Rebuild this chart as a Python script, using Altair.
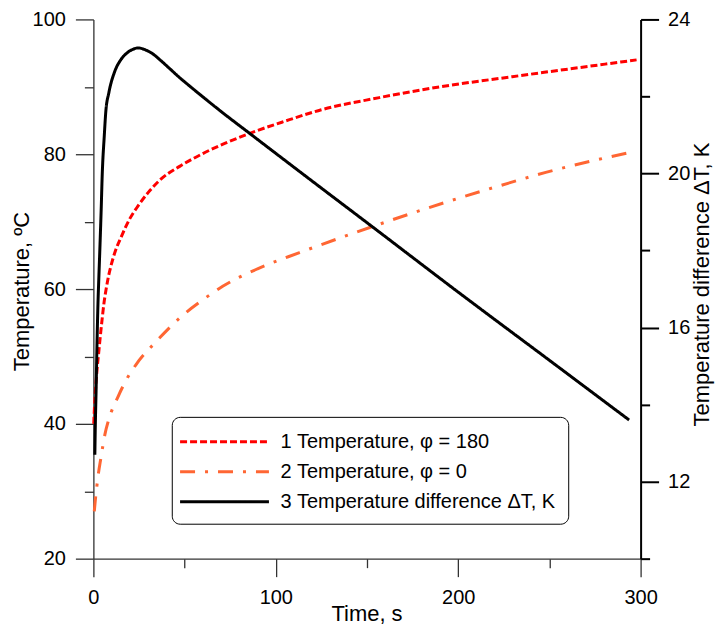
import altair as alt
import pandas as pd

# ---- data ----
series_names = ["1 Temperature, \u03c6 = 180", "2 Temperature, \u03c6 = 0", "3 Temperature difference \u0394T, K"]

red_t = [0.2, 0.6, 1.2, 2.0, 3.0, 3.8, 4.7, 5.8, 7.0, 8.3, 9.7, 12.0, 15.2, 19.5, 24.4, 30.0, 37.0,
         47.3, 60.0, 72.0, 85.7, 105.0, 125.0, 156.8, 190.0, 229.6, 255.4, 297.8]
red_T = [40.0, 42.5, 45.2, 48.0, 50.8, 53.0, 55.3, 57.9, 60.0, 61.9, 63.5, 65.6, 67.7, 70.2, 72.3, 74.3, 76.3,
         78.2, 80.1, 81.6, 83.1, 84.9, 86.6, 88.4, 90.0, 91.5, 92.45, 94.0]

orange_t = [0.5, 1.0, 1.8, 2.6, 4.1, 6.3, 8.6, 13.3, 18.0, 23.4, 34.4, 48.1, 60.0, 70.9, 90.0, 113.0,
            152.3, 193.4, 220.0, 248.0, 294.6]
orange_T = [27.0, 28.5, 30.5, 32.3, 34.9, 38.4, 40.8, 43.9, 46.5, 48.8, 52.2, 55.9, 58.4, 60.4, 63.0, 65.4,
            69.2, 72.9, 75.1, 77.3, 80.3]

black_t = [0.8, 1.0, 1.5, 2.0, 2.5, 3.0, 3.6, 4.3, 4.8, 6.0, 6.8, 8.5, 11.8, 15.0, 18.2, 21.5, 24.5, 28.0,
           32.7, 37.0, 41.9, 47.0, 51.0, 60.0, 70.0, 85.7, 98.4, 120.0, 152.3, 200.0, 250.0, 293.7]
black_dT = [12.7, 13.3, 14.4, 15.6, 16.6, 17.3, 18.1, 19.1, 19.9, 21.0, 21.6, 22.1, 22.66, 22.95, 23.12, 23.22,
            23.26, 23.22, 23.1, 22.93, 22.72, 22.5, 22.34, 21.99, 21.61, 21.04, 20.58, 19.8, 18.64, 16.92,
            15.15, 13.6]

x_ticks = [0, 50, 100, 150, 200, 250, 300]
yl_ticks = [20, 30, 40, 50, 60, 70, 80, 90, 100]
yr_ticks = [10, 12, 14, 16, 18, 20, 22, 24]

colors = ["#ff0000", "#ff6633", "#000000"]
dashes = [[7, 3], [15, 10, 3, 10], [1, 0]]

temp_df = pd.concat([
    pd.DataFrame({"t": red_t, "v": red_T, "series": series_names[0]}),
    pd.DataFrame({"t": orange_t, "v": orange_T, "series": series_names[1]}),
], ignore_index=True)
dt_df = pd.DataFrame({"t": black_t, "v": black_dT, "series": series_names[2]})

FONT = "Liberation Sans"

color_enc = alt.Color(
    "series:N",
    scale=alt.Scale(domain=series_names, range=colors),
    legend=alt.Legend(
        orient="none", legendX=78.5, legendY=398, title=None,
        strokeColor="black", cornerRadius=8, fillColor="white", padding=12,
        labelFont=FONT, labelFontSize=20, labelColor="black", labelLimit=0,
        symbolType="M-1.5,0H6.5", symbolSize=495, symbolStrokeWidth=3,
        rowPadding=7, labelOffset=71,
    ),
)
dash_enc = alt.StrokeDash("series:N", scale=alt.Scale(domain=series_names, range=dashes), legend=None)

x_enc = alt.X(
    "t:Q",
    scale=alt.Scale(domain=[0, 300], nice=False, zero=False),
    axis=alt.Axis(
        values=x_ticks, title="Time, s",
        labelExpr="datum.value % 100 === 0 ? datum.label : ''",
        tickSize={"condition": {"test": "datum.value % 100 === 0", "value": 18}, "value": 9},
        labelPadding=11, labelFlush=False, labelOverlap=False, labelBound=False,
        titleX=273.5, titleY=55, titleBaseline="middle", titleAlign="center",
        domainColor="#333333", tickColor="#333333", domainWidth=1.3, tickWidth=1.3,
        grid=False,
    ),
)

left = alt.Chart(temp_df).mark_line(strokeWidth=3, interpolate="monotone").encode(
    x=x_enc,
    y=alt.Y(
        "v:Q",
        scale=alt.Scale(domain=[20, 100], nice=False, zero=False),
        axis=alt.Axis(
            orient="left", values=yl_ticks, title="Temperature, \u00baC",
            labelExpr="datum.value % 20 === 0 ? datum.label : ''",
            tickSize={"condition": {"test": "datum.value % 20 === 0", "value": 18}, "value": 9},
            labelPadding=10, labelFlush=False, labelOverlap=False, labelBound=False,
            titleX=-72, titleY=272, titleBaseline="middle", titleAlign="center", titleAngle=270,
            domainColor="#333333", tickColor="#333333", domainWidth=1.3, tickWidth=1.3,
            grid=False,
        ),
    ),
    color=color_enc,
    strokeDash=dash_enc,
)

right = alt.Chart(dt_df).mark_line(strokeWidth=3, interpolate="monotone").encode(
    x=alt.X("t:Q", scale=alt.Scale(domain=[0, 300], nice=False, zero=False)),
    y=alt.Y(
        "v:Q",
        scale=alt.Scale(domain=[10, 24], nice=False, zero=False),
        axis=alt.Axis(
            orient="right", values=yr_ticks, title="Temperature difference \u0394T, K",
            labelExpr="datum.value % 4 === 0 ? datum.label : ''",
            tickSize={"condition": {"test": "datum.value % 4 === 0", "value": 18}, "value": 9},
            labelPadding=9, labelFlush=False, labelOverlap=False, labelBound=False,
            titleX=61, titleY=265, titleBaseline="middle", titleAlign="center", titleAngle=270,
            domainColor="#000000", tickColor="#000000", domainWidth=2, tickWidth=2,
            grid=False,
        ),
    ),
    color=color_enc,
    strokeDash=dash_enc,
)

chart = alt.layer(left, right).resolve_scale(y="independent").properties(
    width=548, height=540,
    padding={"left": 85.5, "top": 11, "right": 75.5, "bottom": 68},
    autosize="none",
    background="white",
).configure_view(strokeWidth=0).configure_axis(
    labelFont=FONT, labelFontSize=20, labelColor="black",
    titleFont=FONT, titleFontSize=22, titleColor="black", titleFontWeight="normal",
)

chart.save("out.html", embed_options={"renderer": "svg", "actions": False})
